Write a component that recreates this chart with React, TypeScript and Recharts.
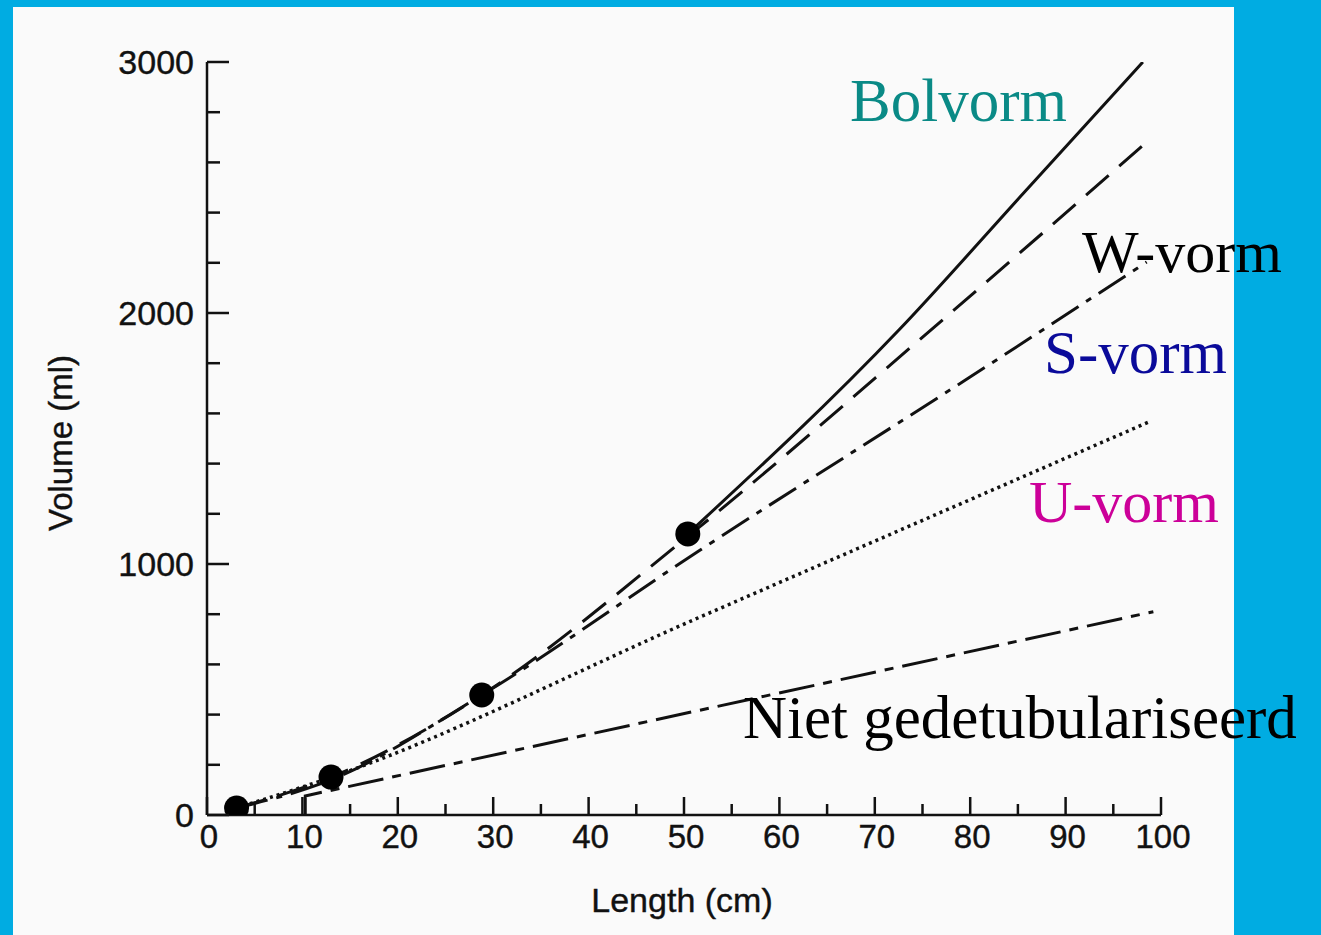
import React from "react";
import { ComposedChart, Line, XAxis, YAxis } from "recharts";

// values (x = length in cm, y = volume in ml)
const bolvorm = [
  { x: 50.4, y: 1120 },
  { x: 72.6, y: 1935 },
  { x: 85.6, y: 2478 },
  { x: 98.1, y: 3000 },
];
const wVorm = [
  { x: 3.1, y: 28 },
  { x: 13, y: 151 },
  { x: 28.8, y: 478 },
  { x: 50.4, y: 1110 },
  { x: 75.5, y: 1920 },
  { x: 98.5, y: 2681 },
];
const sVorm = [
  { x: 3.1, y: 28 },
  { x: 13, y: 140 },
  { x: 28.8, y: 478 },
  { x: 51.7, y: 1056 },
  { x: 79.5, y: 1733 },
  { x: 98.5, y: 2203 },
];
const uVorm = [
  { x: 3.1, y: 28 },
  { x: 13, y: 150 },
  { x: 51.7, y: 789 },
  { x: 98.8, y: 1567 },
];
const nietGedetubulariseerd = [
  { x: 10.3, y: 0 },
  { x: 10.3, y: 76 },
  { x: 99.2, y: 810 },
];
const measured = [
  { x: 3.1, y: 28 },
  { x: 13, y: 151 },
  { x: 28.8, y: 478 },
  { x: 50.4, y: 1120 },
];

const xTicks = [0, 5, 10, 15, 20, 25, 30, 35, 40, 45, 50, 55, 60, 65, 70, 75, 80, 85, 90, 95, 100];
const yTicks = [0, 200, 400, 600, 800, 1000, 1200, 1400, 1600, 1800, 2000, 2200, 2400, 2600, 2800, 3000];

const axisFont = "'Liberation Sans', Arial, Helvetica, sans-serif";
const serifFont = "'Liberation Serif', 'Times New Roman', serif";

function XTick({ x, y, payload }: any) {
  const major = payload.value % 10 === 0;
  return (
    <g>
      <line x1={x} x2={x} y1={y} y2={y - (major ? 18 : 11)} stroke="#111" strokeWidth={2.5} />
      {major && (
        <text x={x + 2} y={y + 33} textAnchor="middle" fontSize={33} fontFamily={axisFont} fill="#111" stroke="#111" strokeWidth={0.4}>
          {payload.value}
        </text>
      )}
    </g>
  );
}

function YTick({ x, y, payload }: any) {
  const major = payload.value % 1000 === 0;
  return (
    <g>
      <line x1={x} x2={x + (major ? 22 : 13)} y1={y} y2={y} stroke="#111" strokeWidth={2.5} />
      {major && (
        <text x={x - 13} y={y + 12} textAnchor="end" fontSize={34} fontFamily={axisFont} fill="#111" stroke="#111" strokeWidth={0.4}>
          {payload.value}
        </text>
      )}
    </g>
  );
}

export default function App() {
  return (
    <div style={{ position: "absolute", left: 0, top: 0, width: 1321, height: 935, background: "#00ace2", overflow: "hidden" }}>
      <div style={{ position: "absolute", left: 13, top: 7, width: 1221, height: 928, background: "#fafafa" }} />
      <div style={{ position: "absolute", left: 0, top: 0 }}>
        <ComposedChart width={1321} height={935} margin={{ top: 62, right: 160, left: 147, bottom: 60 }}>
          <XAxis
            type="number"
            dataKey="x"
            domain={[0, 100]}
            ticks={xTicks}
            interval={0}
            tickSize={0}
            tickMargin={0}
            height={60}
            tick={<XTick />}
            axisLine={{ stroke: "#111", strokeWidth: 2.5 }}
            allowDataOverflow
          />
          <YAxis
            type="number"
            dataKey="y"
            domain={[0, 3000]}
            ticks={yTicks}
            interval={0}
            tickSize={0}
            tickMargin={0}
            width={60}
            tick={<YTick />}
            axisLine={{ stroke: "#111", strokeWidth: 2.5 }}
            allowDataOverflow
          />
          <Line data={nietGedetubulariseerd} dataKey="y" type="linear" stroke="#111" strokeWidth={3} strokeDasharray="36 9 9 9" dot={false} isAnimationActive={false} />
          <Line data={uVorm} dataKey="y" type="monotone" stroke="#111" strokeWidth={3.5} strokeDasharray="3 4" dot={false} isAnimationActive={false} />
          <Line data={sVorm} dataKey="y" type="monotone" stroke="#111" strokeWidth={3} strokeDasharray="32 9 6 9" dot={false} isAnimationActive={false} />
          <Line data={wVorm} dataKey="y" type="monotone" stroke="#111" strokeWidth={3} strokeDasharray="30 14" dot={false} isAnimationActive={false} />
          <Line data={bolvorm} dataKey="y" type="monotone" stroke="#111" strokeWidth={3} dot={false} isAnimationActive={false} />
          <Line data={measured} dataKey="y" stroke="none" dot={{ r: 12.5, fill: "#000", stroke: "none" }} isAnimationActive={false} />
        </ComposedChart>
      </div>
      <svg width={1321} height={935} style={{ position: "absolute", left: 0, top: 0, pointerEvents: "none" }}>
        <text x={682} y={912} textAnchor="middle" fontSize={34} fontFamily={axisFont} fill="#111" stroke="#111" strokeWidth={0.4}>
          Length (cm)
        </text>
        <text x={72} y={443} textAnchor="middle" fontSize={33} fontFamily={axisFont} fill="#111" stroke="#111" strokeWidth={0.4} transform="rotate(-90, 72, 443)">
          Volume (ml)
        </text>
        <text x={850} y={121} fontSize={61} fontFamily={serifFont} fill="#0a8a86">Bolvorm</text>
        <text x={1082} y={272} fontSize={60} fontFamily={serifFont} fill="#000">W-vorm</text>
        <text x={1044} y={373} fontSize={61} fontFamily={serifFont} fill="#0a0a9a">S-vorm</text>
        <text x={1029} y={522} fontSize={60} fontFamily={serifFont} fill="#cc0099">U-vorm</text>
        <text x={743} y={738} fontSize={61} fontFamily={serifFont} fill="#000">Niet gedetubulariseerd</text>
      </svg>
    </div>
  );
}
